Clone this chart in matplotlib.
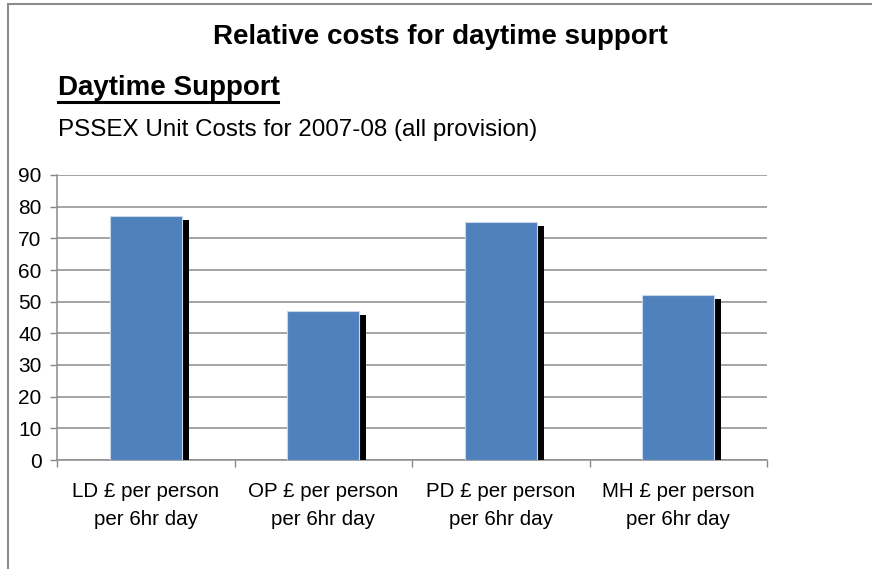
import matplotlib
matplotlib.use("Agg")
import matplotlib.pyplot as plt
import matplotlib.patheffects as pe
from matplotlib.lines import Line2D

plt.rcParams['font.family'] = ['Liberation Sans', 'DejaVu Sans']

categories = ["LD £ per person\nper 6hr day", "OP £ per person\nper 6hr day",
              "PD £ per person\nper 6hr day", "MH £ per person\nper 6hr day"]
values = [77, 47, 75, 52]
yticks = [0, 10, 20, 30, 40, 50, 60, 70, 80, 90]

W, H = 872, 569
fig = plt.figure(figsize=(W / 100, H / 100), dpi=100)
ax = fig.add_axes([57 / W, 1 - 460 / H, (767 - 57) / W, (460 - 175) / H])

x = list(range(len(values)))
bars = ax.bar(x, values, width=0.406, color="#4F81BD", edgecolor="#C9D7EC",
              linewidth=0.8, zorder=3)
for b in bars:
    b.set_path_effects([pe.SimplePatchShadow(offset=(5.0, -2.5), shadow_rgbFace="black",
                                             alpha=1.0), pe.Normal()])

ax.set_xlim(-0.5, len(values) - 0.5)
ax.set_ylim(0, 90)
ax.set_yticks(yticks)
ax.set_yticklabels([str(v) for v in yticks], fontsize=15)
ax.set_xticks(x)
ax.set_xticklabels(categories, fontsize=14.8, linespacing=1.6)
ax.set_xticks([i - 0.5 for i in range(len(values) + 1)], minor=True)
ax.tick_params(axis='x', which='major', length=0, pad=15.5)
ax.tick_params(axis='x', which='minor', length=5, color="#888888", width=1)
ax.tick_params(axis='y', length=5, color="#888888", width=1, pad=6)

ax.grid(axis='y', color="#8c8c8c", linewidth=1.1, zorder=0)
ax.set_axisbelow(True)
for s in ['top', 'right']:
    ax.spines[s].set_visible(False)
for s in ['left', 'bottom']:
    ax.spines[s].set_color("#8c8c8c")
    ax.spines[s].set_linewidth(1.1)

fig.text(440 / W, 1 - 37 / H, "Relative costs for daytime support", fontsize=20,
         fontweight='bold', ha='center', va='center')
fig.text(58 / W, 1 - 88 / H, "Daytime Support", fontsize=20, fontweight='bold',
         ha='left', va='center')
fig.add_artist(Line2D([58 / W, 278 / W], [1 - 101.5 / H, 1 - 101.5 / H],
                      color='black', linewidth=2.2, transform=fig.transFigure))
fig.text(58 / W, 1 - 130 / H, "PSSEX Unit Costs for 2007-08 (all provision)",
         fontsize=17.4, ha='left', va='center')

# chart frame
fig.add_artist(Line2D([8 / W, 1.0], [1 - 4 / H, 1 - 4 / H], color="#8c8c8c",
                      linewidth=1.5, transform=fig.transFigure))
fig.add_artist(Line2D([8 / W, 8 / W], [0, 1 - 4 / H], color="#8c8c8c",
                      linewidth=1.5, transform=fig.transFigure))

fig.savefig("out.png", dpi=100)
